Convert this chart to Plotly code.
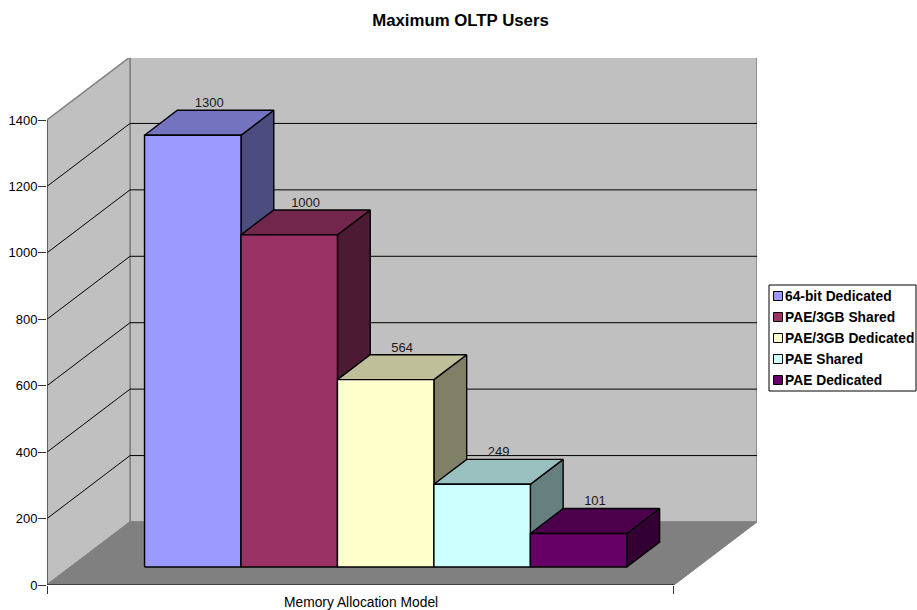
import plotly.graph_objects as go

# valores del grafico
series = ['64-bit Dedicated', 'PAE/3GB Shared', 'PAE/3GB Dedicated', 'PAE Shared', 'PAE Dedicated']
usuarios = [1300, 1000, 564, 249, 101]
colores = ['#9999FF', '#993366', '#FFFFCC', '#CCFFFF', '#660066']
ticks_y = [0, 200, 400, 600, 800, 1000, 1200, 1400]

# geometria de la perspectiva oblicua, en pixeles medidos sobre la imagen
ANCHO, ALTO = 917, 610
IZQ, DER, ARRIBA, ABAJO = 47, 757, 58, 585
PX_POR_BARRA = 96.46
PX_POR_UNIDAD = 465 / 1400
FONDO_DX, FONDO_DY = 83, 63

X_TOTAL = 6.5           # largo del eje en anchos de barra
HUECO = 0.765           # espacio antes de la primera barra
PROF_INI = 0.286        # profundidad donde empieza la barra
PROF_BARRA = 0.395      # profundidad de la barra
Y_MAX = 1400


def proy(x, y, d):
    # pasa (x, valor, profundidad) a coordenadas de los ejes
    return x + d * FONDO_DX / PX_POR_BARRA, y + d * FONDO_DY / PX_POR_UNIDAD


def sombra(color, f):
    r, g, b = int(color[1:3], 16), int(color[3:5], 16), int(color[5:7], 16)
    return 'rgb(%d,%d,%d)' % (round(r * f), round(g * f), round(b * f))


def poligono(fig, puntos, relleno, borde, grosor=1.4):
    xs = [p[0] for p in puntos] + [puntos[0][0]]
    ys = [p[1] for p in puntos] + [puntos[0][1]]
    fig.add_trace(go.Scatter(
        x=xs, y=ys, mode='lines', fill='toself', fillcolor=relleno,
        line=dict(color=borde, width=grosor), cliponaxis=False,
        hoverinfo='skip', showlegend=False
    ))


def linea(fig, puntos, color, grosor=1.0):
    fig.add_trace(go.Scatter(
        x=[p[0] for p in puntos], y=[p[1] for p in puntos], mode='lines',
        line=dict(color=color, width=grosor), cliponaxis=False,
        hoverinfo='skip', showlegend=False
    ))


fig = go.Figure()

# paredes y piso
poligono(fig, [proy(0, 0, 1), proy(X_TOTAL, 0, 1), proy(X_TOTAL, Y_MAX, 1), proy(0, Y_MAX, 1)],
         '#C0C0C0', '#808080', 1.5)
poligono(fig, [proy(0, 0, 0), proy(0, 0, 1), proy(0, Y_MAX, 1), proy(0, Y_MAX, 0)],
         '#C0C0C0', '#808080', 1.5)
poligono(fig, [proy(0, 0, 0), proy(X_TOTAL, 0, 0), proy(X_TOTAL, 0, 1), proy(0, 0, 1)],
         '#808080', '#808080', 1.0)

# lineas de la grilla, en la pared izquierda y en la del fondo
for t in ticks_y[1:-1]:
    linea(fig, [proy(0, t, 0), proy(0, t, 1), proy(X_TOTAL, t, 1)], 'black')

# ejes
linea(fig, [proy(0, 0, 0), proy(0, Y_MAX, 0)], '#404040', 1.2)
linea(fig, [proy(0, 0, 0), proy(X_TOTAL, 0, 0)], 'black', 1.2)

# barras de izquierda a derecha, asi cada una tapa el costado de la anterior
for i, valor in enumerate(usuarios):
    x0 = HUECO + i
    x1 = x0 + 1
    d0 = PROF_INI
    d1 = PROF_INI + PROF_BARRA
    poligono(fig, [proy(x1, 0, d0), proy(x1, 0, d1), proy(x1, valor, d1), proy(x1, valor, d0)],
             sombra(colores[i], 0.5), 'black')
    poligono(fig, [proy(x0, valor, d0), proy(x1, valor, d0), proy(x1, valor, d1), proy(x0, valor, d1)],
             sombra(colores[i], 0.75), 'black')
    poligono(fig, [proy(x0, 0, d0), proy(x1, 0, d0), proy(x1, valor, d0), proy(x0, valor, d0)],
             colores[i], 'black')

# etiquetas de valor: en x al medio de la cara superior, en y sobre su borde de atras
etiq_x = [proy(HUECO + i + 0.5, v, PROF_INI + PROF_BARRA / 2)[0] for i, v in enumerate(usuarios)]
etiq_y = [proy(HUECO + i + 0.5, v, PROF_INI + PROF_BARRA)[1] for i, v in enumerate(usuarios)]
fig.add_trace(go.Scatter(
    x=etiq_x, y=etiq_y, mode='text',
    text=[str(v) for v in usuarios], textposition='top center',
    textfont=dict(family='Liberation Sans', size=13, color='#1a1a1a'),
    cliponaxis=False, hoverinfo='skip', showlegend=False
))


def px_a_paper(px, py):
    return (px - IZQ) / (DER - IZQ), (ABAJO - py) / (ABAJO - ARRIBA)


# leyenda a mano: la de plotly no deja el cuadrito tan pegado al texto y no cabe
shapes = []
annots = []
x0p, y0p = px_a_paper(769, 285)
x1p, y1p = px_a_paper(916, 391)
shapes.append(dict(type='rect', xref='paper', yref='paper', x0=x0p, y0=y0p, x1=x1p, y1=y1p,
                   line=dict(color='black', width=1), fillcolor='white'))
for i, nombre in enumerate(series):
    yc = 296 + i * 21
    ax, ay = px_a_paper(773.5, yc - 4.5)
    bx, by = px_a_paper(782.5, yc + 4.5)
    shapes.append(dict(type='rect', xref='paper', yref='paper', x0=ax, y0=ay, x1=bx, y1=by,
                       line=dict(color='black', width=1), fillcolor=colores[i]))
    tx, ty = px_a_paper(784, yc)
    annots.append(dict(text='<b>' + nombre + '</b>', xref='paper', yref='paper', x=tx, y=ty,
                       xanchor='left', yanchor='middle', showarrow=False, xshift=-1,
                       font=dict(family='Liberation Sans', size=13.8, color='black')))

# titulo del eje x, centrado en el eje y no en el area del grafico
_, ty = px_a_paper(0, 602)
annots.append(dict(text='Memory Allocation Model', xref='x', yref='paper', x=X_TOTAL / 2, y=ty,
                   xanchor='center', yanchor='middle', showarrow=False,
                   font=dict(family='Liberation Sans', size=13.8, color='black')))

fig.update_layout(
    width=ANCHO, height=ALTO,
    margin=dict(l=IZQ, r=ANCHO - DER, t=ARRIBA, b=ALTO - ABAJO),
    paper_bgcolor='white', plot_bgcolor='white',
    showlegend=False, shapes=shapes, annotations=annots,
    title=dict(text='<b>Maximum OLTP Users</b>', x=460.5 / ANCHO, xanchor='center',
               y=1 - 20 / ALTO, yanchor='middle',
               font=dict(family='Liberation Sans', size=16.8, color='black')),
    xaxis=dict(range=[0, (DER - IZQ) / PX_POR_BARRA], tickvals=[0, X_TOTAL], ticktext=['', ''],
               ticks='outside', ticklen=8, tickcolor='#333333', showgrid=False,
               zeroline=False, showline=False, automargin=False),
    yaxis=dict(range=[0, (ABAJO - ARRIBA) / PX_POR_UNIDAD], tickvals=ticks_y,
               ticks='outside', ticklen=8, tickcolor='#333333', showgrid=False,
               zeroline=False, showline=False, automargin=False, ticklabelstandoff=-2,
               tickfont=dict(family='Liberation Sans', size=13, color='black'))
)

# el body trae margen de 8px por defecto y corre todo el grafico
fig.write_html("out.html", config=dict(displayModeBar=False),
               post_script="document.body.style.margin='0';")
